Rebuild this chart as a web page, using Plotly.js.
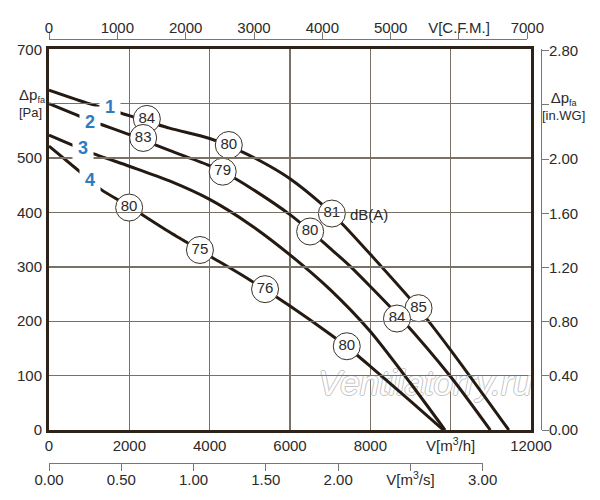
<!DOCTYPE html>
<html>
<head>
<meta charset="utf-8">
<script src="https://cdn.plot.ly/plotly-3.0.1.min.js"></script>
<style>html,body{margin:0;padding:0;background:#fff;}#chart{width:600px;height:500px;}</style>
</head>
<body>
<div id="chart"></div>
<script>
// ---- data ----
const curve1Flow = [0, 1000, 2000, 3000, 4000, 4795, 5500, 6000, 6747, 7327, 8000, 9178, 10000, 11447];
const curve1Pa   = [625, 600, 578, 555, 536, 512, 485, 462, 418, 377, 323, 225, 147, 0];

const curve2Flow = [0, 1000, 2000, 3000, 4000, 4500, 5000, 6000, 6500, 7000, 7500, 8000, 8741, 10000, 10986];
const curve2Pa   = [600, 570, 543, 514, 486, 468, 446, 396, 366, 334, 301, 264, 207, 98, 0];

const curve3Flow = [0, 1000, 2000, 3000, 4000, 5000, 6000, 7000, 8000, 9000, 9860];
const curve3Pa   = [542, 511, 485, 458, 424, 378, 322, 258, 181, 86, 0];

const curve4Flow = [0, 800, 1300, 2000, 3000, 4000, 5000, 6000, 7000, 7500, 8000, 9000, 9820];
const curve4Pa   = [522, 473, 442, 411, 364, 320, 276, 228, 176, 148, 117, 53, 0];

// sound level markers (dB(A)) : positions and values
const dbFlow  = [2436, 4476, 7042, 9200, 2344, 4324, 6501, 8663, 1995, 3758, 5379, 7413];
const dbPa    = [572, 524, 398, 224, 537, 475, 365, 205, 409, 331, 259, 154];
const dbValue = ['84', '80', '81', '85', '83', '79', '80', '84', '80', '75', '76', '80'];

// curve numbers
const curveNames = ['1', '2', '3', '4'];
const curveNameFlow = [1513, 1014, 848, 1014];
const curveNamePa = [594, 567, 519, 460];

// axes ticks
const flowTicks = [0, 2000, 4000, 6000, 8000, 10000, 12000];
const flowTickText = ['0', '2000', '4000', '6000', '8000', 'V[m<sup>3</sup>/h]', '12000'];
const paTicks = [0, 100, 200, 300, 400, 500, 600, 700];
const paTickText = ['0', '100', '200', '300', '400', '500', ' ', '700'];
const cfmTicks = [0, 1000, 2000, 3000, 4000, 5000, 6000, 7000];
const cfmTickText = ['0', '1000', '2000', '3000', '4000', '5000', 'V[C.F.M.]', '7000'];
const m3sTicks = [0, 0.5, 1.0, 1.5, 2.0, 2.5, 3.0];
const m3sTickText = ['0.00', '0.50', '1.00', '1.50', '2.00', 'V[m<sup>3</sup>/s]', '3.00'];
const inwgTicks = [0, 0.4, 0.8, 1.2, 1.6, 2.0, 2.4, 2.8];
const inwgTickText = ['0.00', '0.40', '0.80', '1.20', '1.60', '2.00', ' ', '2.80'];

const watermark = 'Ventilatorry.ru';
const watermarkFlow = [9365];
const watermarkPa = [81];

// ---- styling ----
const FONT = 'Liberation Sans, Arial, sans-serif';
const TXT = '#2a2a2a';
const CURVE = '#241a12';
const FRAME = '#2d2318';
const GRID = '#7a7166';
const BLUE = '#2e7bbf';
const WM = '#c4c4c4';

const curveTrace = (x, y) => ({
  x: x, y: y, type: 'scatter', mode: 'lines',
  line: {color: CURVE, width: 3, shape: 'spline', smoothing: 0.7},
  hoverinfo: 'skip', showlegend: false
});

const traces = [
  {x: watermarkFlow, y: watermarkPa, type: 'scatter', mode: 'text', text: [watermark],
   textfont: {family: FONT, size: 35, style: 'italic', color: '#ffffff',
              shadow: '1px 0 0 ' + WM + ', -1px 0 0 ' + WM + ', 0 1px 0 ' + WM + ', 0 -1px 0 ' + WM},
   hoverinfo: 'skip', showlegend: false},
  curveTrace(curve1Flow, curve1Pa),
  curveTrace(curve2Flow, curve2Pa),
  curveTrace(curve3Flow, curve3Pa),
  curveTrace(curve4Flow, curve4Pa),
  {x: dbFlow, y: dbPa, type: 'scatter', mode: 'markers+text', text: dbValue,
   textposition: 'middle center',
   textfont: {family: FONT, size: 15, color: TXT},
   marker: {symbol: 'circle', size: 27, color: '#ffffff', line: {color: '#3a3128', width: 1}},
   hoverinfo: 'skip', showlegend: false},
  // empty traces so the extra scale axes exist
  {x: [null], y: [null], xaxis: 'x2', yaxis: 'y', type: 'scatter', mode: 'markers', showlegend: false, hoverinfo: 'skip'},
  {x: [null], y: [null], xaxis: 'x3', yaxis: 'y', type: 'scatter', mode: 'markers', showlegend: false, hoverinfo: 'skip'},
  {x: [null], y: [null], xaxis: 'x', yaxis: 'y2', type: 'scatter', mode: 'markers', showlegend: false, hoverinfo: 'skip'}
];

const annotations = curveNames.map((t, i) => ({
  x: curveNameFlow[i], y: curveNamePa[i], xref: 'x', yref: 'y', text: t, showarrow: false,
  font: {family: FONT, size: 18, color: BLUE, weight: 'bold'},
  bgcolor: '#ffffff', borderpad: 5
}));
annotations.push({
  x: 7445, y: 396, xref: 'x', yref: 'y', text: 'dB(A)', showarrow: false, xanchor: 'left',
  font: {family: FONT, size: 15, color: TXT}
});
annotations.push({
  x: -0.066, y: 602, xref: 'paper', yref: 'y', xanchor: 'left', yanchor: 'middle', align: 'left',
  text: '<span style="font-size:15px">Δp</span><sub>fa</sub><br>[Pa]', showarrow: false,
  font: {family: FONT, size: 13, color: TXT}
});
annotations.push({
  x: 1.045, y: 596, xref: 'paper', yref: 'y', xanchor: 'center', yanchor: 'middle', align: 'center',
  text: '<span style="font-size:15px">Δp</span><sub>fa</sub><br>[in.WG]', showarrow: false,
  font: {family: FONT, size: 13, color: TXT}
});

const tickFont = {family: FONT, size: 15, color: TXT};

const layout = {
  width: 600, height: 500,
  margin: {l: 49, r: 59, t: 39, b: 37},
  paper_bgcolor: '#ffffff', plot_bgcolor: 'rgba(0,0,0,0)',
  showlegend: false, hovermode: false,
  xaxis: {
    domain: [0, 0.9797], range: [0, 12000], anchor: 'y',
    tickvals: flowTicks, ticktext: flowTickText, tickfont: tickFont,
    ticks: 'outside', ticklen: 4, tickcolor: 'rgba(0,0,0,0)', ticklabelstandoff: -4,
    showgrid: true, gridcolor: GRID, gridwidth: 1.3, zeroline: false,
    showline: true, linecolor: FRAME, linewidth: 3, mirror: true
  },
  yaxis: {
    domain: [0.0778, 0.9757], range: [0, 700], anchor: 'x',
    tickvals: paTicks, ticktext: paTickText, tickfont: tickFont,
    ticks: 'outside', ticklen: 4, tickcolor: 'rgba(0,0,0,0)', ticklabelstandoff: -3,
    showgrid: true, gridcolor: GRID, gridwidth: 1.3, zeroline: false,
    showline: true, linecolor: FRAME, linewidth: 3, mirror: true
  },
  xaxis2: {
    domain: [0, 0.9722], range: [0, 7000], anchor: 'free', position: 1, side: 'top',
    tickvals: cfmTicks, ticktext: cfmTickText, tickfont: tickFont,
    ticks: 'outside', ticklen: 7, tickcolor: '#777', tickwidth: 1, ticklabelstandoff: -7,
    showgrid: false, zeroline: false, showline: true, linecolor: '#777', linewidth: 1
  },
  xaxis3: {
    domain: [0, 0.8815], range: [0, 3.0], anchor: 'free', position: 0, side: 'bottom',
    tickvals: m3sTicks, ticktext: m3sTickText, tickfont: tickFont,
    ticks: 'outside', ticklen: 7, tickcolor: '#777', tickwidth: 1, ticklabelstandoff: -4,
    showgrid: false, zeroline: false, showline: true, linecolor: '#777', linewidth: 1
  },
  yaxis2: {
    overlaying: 'y', range: [0, 700 / 249.089], anchor: 'free', position: 1, side: 'right',
    tickvals: inwgTicks, ticktext: inwgTickText, tickfont: tickFont,
    ticks: 'outside', ticklen: 7, tickcolor: '#777', tickwidth: 1, ticklabelstandoff: -3,
    showgrid: false, zeroline: false, showline: true, linecolor: '#777', linewidth: 1
  },
  annotations: annotations
};

Plotly.newPlot('chart', traces, layout, {staticPlot: true, displayModeBar: false});
</script>
</body>
</html>
